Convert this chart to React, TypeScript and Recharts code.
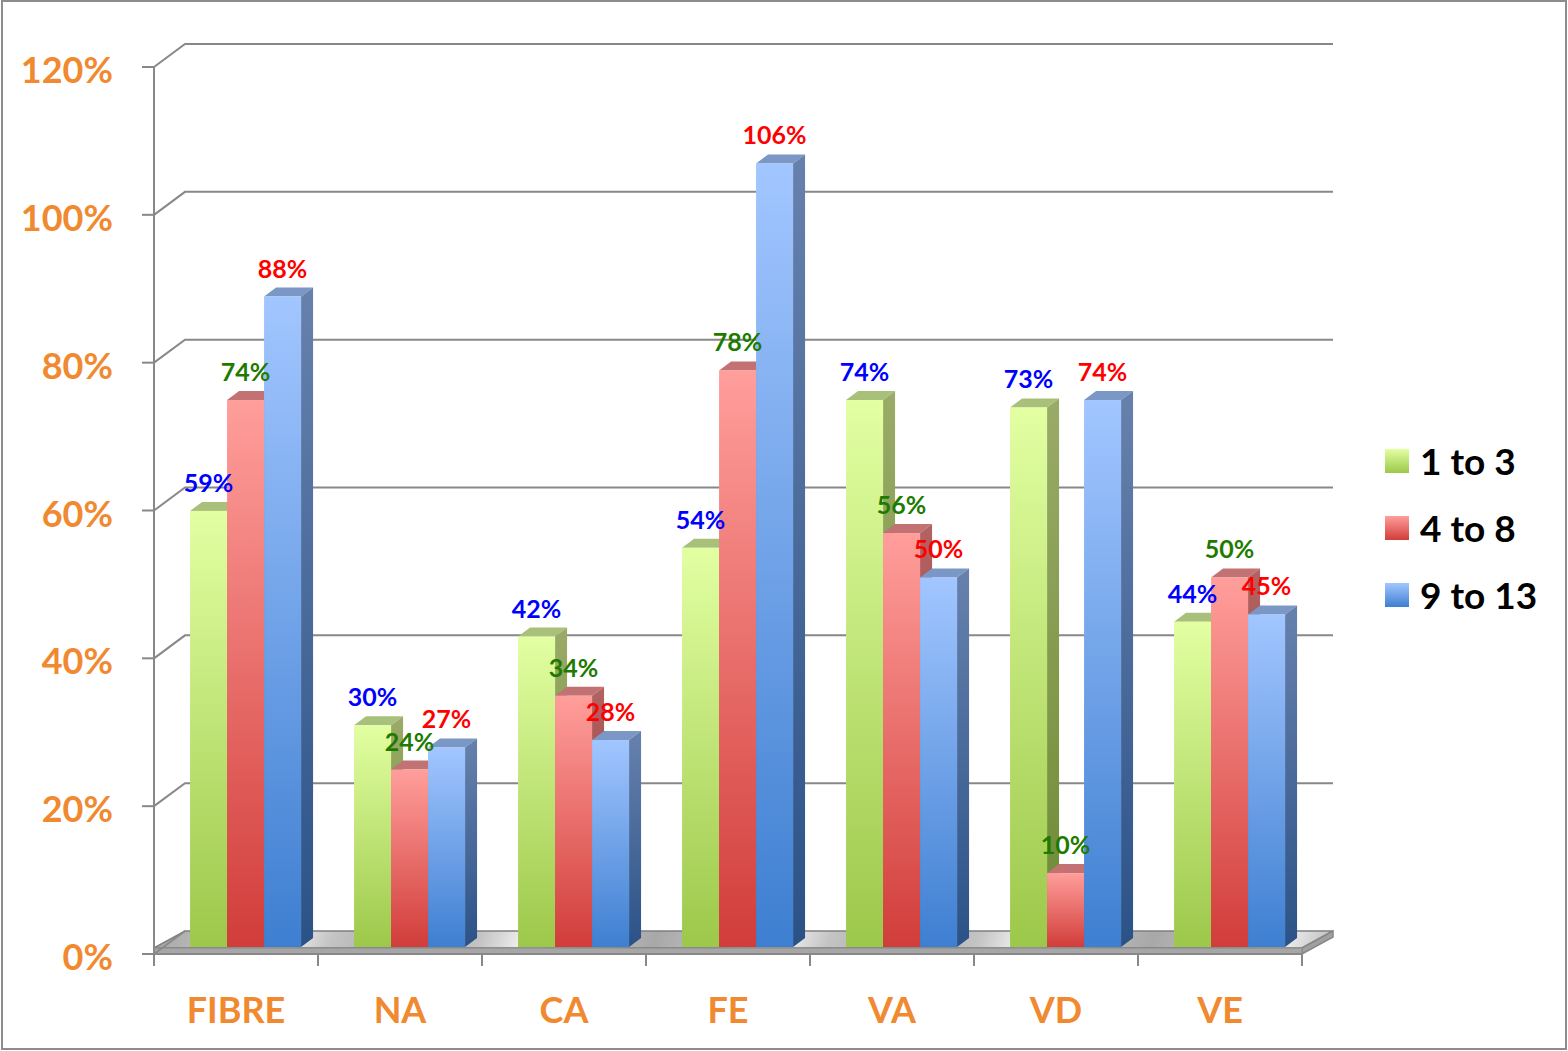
import React from 'react';
import { BarChart, Bar, XAxis, YAxis, CartesianGrid, Legend, LabelList } from 'recharts';

const categories = ['FIBRE', 'NA', 'CA', 'FE', 'VA', 'VD', 'VE'];
const age1to3 = [59, 30, 42, 54, 74, 73, 44];
const age4to8 = [74, 24, 34, 78, 56, 10, 50];
const age9to13 = [88, 27, 28, 106, 50, 74, 45];
const yTicks = [0, 20, 40, 60, 80, 100, 120];
const seriesNames = ['1 to 3', '4 to 8', '9 to 13'];
const seriesKeys = ['a', 'b', 'c'];
const labelColors = ['#0000FF', '#1E7B00', '#FF0000'];

const data = categories.map((cat, i) => ({ cat, a: age1to3[i], b: age4to8[i], c: age9to13[i] }));

const ORANGE = '#F0892F';
const GRID = '#888888';
const FONT = 'Lato, "Open Sans", sans-serif';

// 3D projection offsets
const DX = 9; // bar plane offset from the front plane
const DY = -7;
const BX = 12; // bar depth
const BY = -9;
const WX = 31; // back wall offset from the front plane
const WY = -23;

const palettes = [
  { front: ['#E2FFA2', '#9CC84A'], top: '#A9C07A', side: ['#9AAB68', '#6C8A33'] },
  { front: ['#FF9E9B', '#D13D3A'], top: '#C27272', side: ['#B36363', '#8E2B29'] },
  { front: ['#A2C6FF', '#3E7FD1'], top: '#7A97C6', side: ['#6781AD', '#2B5287'] },
];

const makeShape = (si: number) => (props: any) => {
  const { x, y, width, height, index } = props;
  if (width == null || height == null) return null;
  const p = palettes[si];
  const fx = x + DX;
  const fy = y + DY;
  const fid = `front-${si}-${index}`;
  const sid = `side-${si}-${index}`;
  return (
    <g>
      <defs>
        <linearGradient id={fid} x1="0" y1="0" x2="0" y2="1">
          <stop offset="0%" stopColor={p.front[0]} />
          <stop offset="100%" stopColor={p.front[1]} />
        </linearGradient>
        <linearGradient id={sid} x1="0" y1="0" x2="0" y2="1">
          <stop offset="0%" stopColor={p.side[0]} />
          <stop offset="100%" stopColor={p.side[1]} />
        </linearGradient>
      </defs>
      <polygon
        points={`${fx},${fy} ${fx + width},${fy} ${fx + width + BX},${fy + BY} ${fx + BX},${fy + BY}`}
        fill={p.top}
      />
      <polygon
        points={`${fx + width},${fy} ${fx + width + BX},${fy + BY} ${fx + width + BX},${fy + height + BY} ${fx + width},${fy + height}`}
        fill={`url(#${sid})`}
      />
      <rect x={fx} y={fy} width={width} height={height} fill={`url(#${fid})`} />
    </g>
  );
};

const makeLabel = (si: number) => (props: any) => {
  const vb = props.viewBox ?? props;
  const x = props.x ?? vb.x;
  const y = props.y ?? vb.y;
  const width = props.width ?? vb.width;
  if (x == null || y == null) return null;
  return (
    <text
      x={x + width / 2 + DX}
      y={y + DY - 19}
      textAnchor="middle"
      fill={labelColors[si]}
      fontFamily={FONT}
      fontWeight={700}
      fontSize={25}
    >
      {props.value}%
    </text>
  );
};

const gridLine = (props: any) => {
  const { x1, x2, y1, y, height, index } = props;
  const isFloor = Math.abs(y1 - (y + height)) < 1;
  if (isFloor) {
    return (
      <g key={`floor-${index}`}>
        <defs>
          <linearGradient
            id="floorGrad"
            gradientUnits="userSpaceOnUse"
            x1={0}
            y1={0}
            x2={110}
            y2={40}
            spreadMethod="reflect"
          >
            <stop offset="0%" stopColor="#A8A8A8" />
            <stop offset="60%" stopColor="#C4C4C4" />
            <stop offset="100%" stopColor="#F6F6F6" />
          </linearGradient>
        </defs>
        <polygon
          points={`${x1},${y1 - 6} ${x2},${y1 - 6} ${x2 + WX},${y1 + WY} ${x1 + WX},${y1 + WY}`}
          fill="url(#floorGrad)"
          stroke="#7F7F7F"
          strokeWidth={1.5}
        />
        <polygon
          points={`${x2},${y1 - 6} ${x2 + WX},${y1 + WY} ${x2 + WX},${y1 + WY + 6} ${x2},${y1}`}
          fill="#A0A0A0"
          stroke={GRID}
          strokeWidth={1.5}
        />
        <rect x={x1} y={y1 - 6} width={x2 - x1} height={6} fill="#A6A6A6" stroke={GRID} strokeWidth={1} />
        <line x1={x1} y1={y1} x2={x1 + WX} y2={y1 + WY} stroke={GRID} strokeWidth={2} />
      </g>
    );
  }
  return (
    <polyline
      key={`grid-${index}`}
      points={`${x1},${y1} ${x1 + WX},${y1 + WY} ${x2 + WX},${y1 + WY}`}
      fill="none"
      stroke={GRID}
      strokeWidth={2}
    />
  );
};

const XTick = (props: any) => {
  const { x, y, payload, index } = props;
  const half = payload?.offset || 82;
  return (
    <g>
      <line x1={x - half} x2={x - half} y1={y - 12} y2={y} stroke={GRID} strokeWidth={2} />
      {index === categories.length - 1 && (
        <line x1={x + half} x2={x + half} y1={y - 12} y2={y} stroke={GRID} strokeWidth={2} />
      )}
      <text x={x} y={y + 57} textAnchor="middle" fill={ORANGE} fontFamily={FONT} fontWeight={700} fontSize={36}>
        {payload.value}
      </text>
    </g>
  );
};

const YTick = (props: any) => {
  const { x, y, payload } = props;
  return (
    <text x={x} y={y + 16} textAnchor="end" fill={ORANGE} fontFamily={FONT} fontWeight={700} fontSize={36}>
      {payload.value}%
    </text>
  );
};

const renderLegend = () => (
  <div style={{ fontFamily: FONT, fontWeight: 700, fontSize: 37, color: '#000', lineHeight: 1 }}>
    {seriesNames.map((n, i) => (
      <div key={n} style={{ display: 'flex', alignItems: 'center', height: 67 }}>
        <div
          style={{
            width: 24,
            height: 24,
            marginRight: 11,
            background: `linear-gradient(${palettes[i].front[0]}, ${palettes[i].front[1]})`,
          }}
        />
        <span>{n}</span>
      </div>
    ))}
  </div>
);

export default function App() {
  return (
    <div style={{ position: 'absolute', left: 0, top: 0, width: 1568, height: 1051, background: '#fff', fontFamily: FONT }}>
      <div
        style={{
          position: 'absolute',
          left: 1,
          top: 0,
          width: 1566,
          height: 1050,
          border: '2px solid #8C8C8C',
          boxSizing: 'border-box',
        }}
      />
      <BarChart
        width={1568}
        height={1051}
        data={data}
        margin={{ top: 67, right: 66, bottom: 17, left: 0 }}
        barCategoryGap="16.5%"
        barGap={0}
      >
        <CartesianGrid vertical={false} horizontal={gridLine} />
        <XAxis
          dataKey="cat"
          tickLine={false}
          axisLine={{ stroke: GRID, strokeWidth: 2 }}
          tick={XTick}
          tickSize={12}
          tickMargin={0}
          height={80}
          interval={0}
        />
        <YAxis
          domain={[0, 120]}
          ticks={yTicks}
          width={154}
          tickSize={12}
          tickMargin={29}
          axisLine={{ stroke: GRID, strokeWidth: 2 }}
          tickLine={{ stroke: GRID, strokeWidth: 2 }}
          tick={YTick}
          interval={0}
        />
        <Legend
          layout="vertical"
          align="right"
          verticalAlign="middle"
          width={200}
          content={renderLegend}
          wrapperStyle={{ left: 1385, top: 427, right: 'auto' }}
        />
        {seriesKeys.map((k, si) => (
          <Bar key={k} dataKey={k} name={seriesNames[si]} shape={makeShape(si)} isAnimationActive={false}>
            <LabelList dataKey={k} content={makeLabel(si)} />
          </Bar>
        ))}
      </BarChart>
    </div>
  );
}
